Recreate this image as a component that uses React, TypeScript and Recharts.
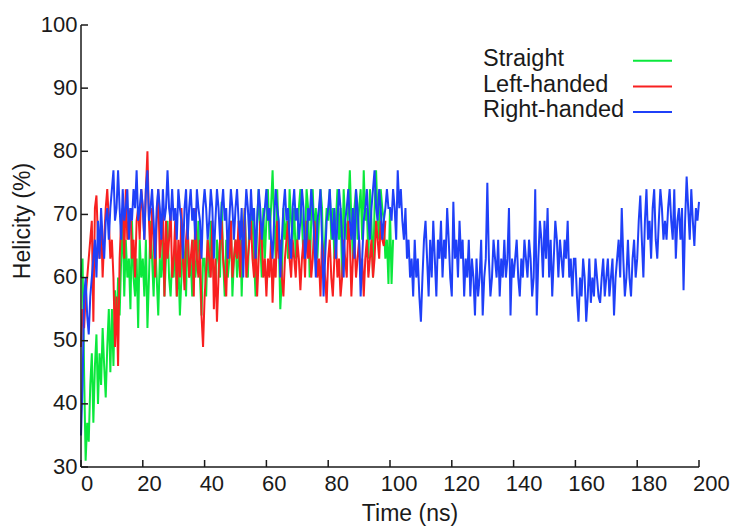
import React from "react";
import { LineChart, Line, XAxis, YAxis, Customized } from "recharts";

// sampling of the trajectories (ns between points)
const STEP_NS = 0.5;

// Straight peptide, helicity (%) every 0.5 ns
const straight = [
  60, 63, 45, 31, 37, 34, 43, 48, 37, 46, 51, 40, 48, 43, 52, 46, 41, 49, 55, 45,
  55, 46, 58, 51, 60, 54, 63, 69, 57, 66, 60, 63, 55, 69, 60, 57, 63, 52, 66, 60,
  63, 57, 66, 52, 60, 69, 63, 57, 66, 60, 54, 63, 60, 66, 57, 63, 69, 60, 57, 63,
  60, 66, 57, 63, 54, 60, 66, 63, 57, 69, 60, 63, 57, 66, 60, 63, 69, 60, 54, 63,
  63, 57, 66, 60, 69, 63, 60, 57, 66, 63, 60, 72, 63, 57, 66, 60, 63, 69, 57, 63,
  66, 60, 63, 69, 57, 66, 71, 63, 60, 69, 66, 71, 63, 57, 69, 74, 66, 60, 71, 63,
  69, 74, 66, 71, 77, 69, 63, 74, 66, 55, 60, 71, 66, 69, 63, 74, 69, 66, 71, 63,
  66, 71, 74, 69, 63, 66, 74, 71, 60, 69, 74, 66, 71, 63, 69, 74, 71, 60, 66, 71,
  69, 74, 66, 71, 63, 69, 74, 66, 71, 60, 74, 69, 66, 71, 77, 69, 63, 71, 74, 66,
  71, 74, 66, 77, 69, 71, 63, 74, 69, 60, 71, 77, 69, 66, 74, 71, 69, 63, 66, 59,
  71, 59, 66,
];

// Left-handed
const leftHanded = [
  49, 55, 52, 57, 60, 63, 66, 69, 53, 71, 73, 66, 63, 69, 60, 66, 71, 74, 69, 63,
  66, 60, 49, 57, 46, 63, 69, 71, 63, 74, 66, 69, 71, 63, 66, 60, 69, 71, 66, 74,
  71, 66, 74, 80, 69, 63, 71, 66, 60, 69, 74, 63, 66, 71, 57, 69, 63, 66, 71, 60,
  63, 69, 57, 66, 60, 71, 63, 58, 66, 69, 60, 63, 66, 57, 71, 63, 60, 66, 54, 49,
  57, 61, 66, 63, 60, 69, 55, 63, 53, 60, 66, 69, 63, 60, 57, 66, 63, 69, 60, 63,
  66, 63, 69, 60, 66, 63, 71, 60, 63, 66, 69, 63, 60, 66, 57, 63, 69, 66, 60, 63,
  57, 63, 60, 66, 56, 63, 60, 69, 63, 66, 60, 57, 63, 66, 69, 63, 60, 66, 63, 60,
  66, 63, 58, 63, 66, 60, 69, 63, 66, 60, 63, 69, 66, 60, 63, 57, 66, 63, 60, 56,
  63, 66, 60, 57, 63, 66, 60, 63, 57, 60, 66, 63, 60, 69, 66, 57, 63, 66, 60, 63,
  66, 60, 63, 57, 63, 66, 60, 63, 66, 60, 63, 69, 66, 63, 69, 66, 65, 69,
];

// Right-handed
const rightHanded = [
  35, 43, 57, 60, 54, 51, 57, 60, 63, 66, 60, 69, 63, 71, 66, 63, 69, 71, 66, 71,
  74, 77, 69, 71, 77, 71, 66, 74, 69, 71, 74, 66, 71, 69, 74, 71, 77, 69, 71, 74,
  71, 66, 74, 77, 69, 71, 74, 69, 63, 71, 74, 71, 66, 74, 69, 71, 77, 71, 69, 74,
  69, 71, 66, 74, 71, 69, 63, 71, 74, 66, 71, 74, 69, 71, 66, 74, 71, 69, 63, 71,
  74, 71, 66, 69, 74, 71, 63, 69, 74, 71, 66, 71, 74, 69, 71, 63, 69, 74, 71, 66,
  71, 74, 69, 66, 71, 60, 69, 74, 71, 66, 74, 69, 71, 63, 69, 74, 71, 66, 69, 71,
  74, 69, 71, 66, 63, 69, 74, 71, 69, 60, 66, 71, 74, 69, 71, 66, 63, 71, 74, 69,
  71, 66, 69, 74, 71, 63, 66, 71, 69, 74, 71, 66, 60, 69, 71, 74, 66, 57, 63, 69,
  71, 74, 69, 66, 71, 63, 69, 74, 71, 66, 60, 69, 71, 74, 69, 66, 71, 63, 74, 71,
  66, 57, 63, 69, 71, 74, 69, 66, 71, 74, 77, 71, 69, 74, 71, 66, 69, 71, 74, 71,
  71, 69, 74, 71, 66, 77, 71, 74, 69, 66, 71, 63, 66, 60, 63, 57, 66, 60, 63, 57,
  53, 60, 66, 69, 63, 57, 66, 60, 69, 63, 57, 66, 63, 69, 60, 66, 63, 71, 66, 60,
  57, 72, 63, 66, 60, 69, 63, 66, 57, 63, 60, 66, 57, 63, 60, 54, 63, 57, 60, 66,
  54, 60, 63, 75, 63, 57, 60, 66, 63, 60, 66, 57, 63, 60, 66, 60, 63, 71, 54, 63,
  60, 63, 66, 60, 57, 63, 60, 66, 63, 60, 66, 63, 57, 60, 74, 54, 63, 69, 66, 60,
  69, 63, 71, 60, 66, 57, 63, 69, 66, 60, 66, 63, 60, 66, 63, 69, 60, 63, 57, 63,
  63, 57, 53, 60, 57, 63, 60, 53, 57, 63, 56, 60, 57, 63, 60, 57, 56, 60, 63, 57,
  60, 63, 57, 60, 63, 54, 60, 63, 66, 60, 71, 63, 57, 60, 66, 60, 57, 63, 66, 60,
  63, 69, 73, 66, 60, 69, 74, 66, 69, 63, 71, 74, 66, 63, 69, 74, 71, 66, 69, 66,
  71, 74, 69, 66, 74, 63, 69, 71, 66, 71, 58, 69, 76, 71, 66, 74, 69, 65, 71, 69, 72,
];

const xTicks = [0, 20, 40, 60, 80, 100, 120, 140, 160, 180, 200];
const yTicks = [30, 40, 50, 60, 70, 80, 90, 100];

const series = [
  { key: "straight", name: "Straight", color: "#0be83c" },
  { key: "left", name: "Left-handed", color: "#f82020" },
  { key: "right", name: "Right-handed", color: "#1f40f8" },
];

const chartData = rightHanded.map((v, i) => ({
  time: i * STEP_NS,
  straight: straight[i],
  left: leftHanded[i],
  right: v,
}));

const FONT = "'Liberation Sans', Arial, Helvetica, sans-serif";
const INK = "#1a1a1a";

const BottomTick = (props: any) => {
  const { x, y, payload } = props;
  return (
    <g>
      <line x1={x} y1={y} x2={x} y2={y - 7} stroke={INK} strokeWidth={1.5} />
      <text x={x + 6 + payload.value * 0.032} y={y + 23.5} textAnchor="middle" fontSize={22} fill={INK} fontFamily={FONT}>
        {payload.value}
      </text>
    </g>
  );
};

const TopTick = (props: any) => {
  const { x, y } = props;
  return <line x1={x} y1={y} x2={x} y2={y + 7} stroke={INK} strokeWidth={1.5} />;
};

const LeftTick = (props: any) => {
  const { x, y, payload } = props;
  return (
    <g>
      <line x1={x} y1={y} x2={x + 7} y2={y} stroke={INK} strokeWidth={1.5} />
      <text x={x - 3.5} y={y + 6.5} textAnchor="end" fontSize={22} fill={INK} fontFamily={FONT}>
        {payload.value}
      </text>
    </g>
  );
};

const RightTick = (props: any) => {
  const { x, y } = props;
  return <line x1={x} y1={y} x2={x - 7} y2={y} stroke={INK} strokeWidth={1.5} />;
};

// titles and the key, drawn inside the svg
const Decorations = () => (
  <g fontFamily={FONT} fill={INK}>
    <text x={410} y={521} textAnchor="middle" fontSize={23}>Time (ns)</text>
    <text x={30} y={221} textAnchor="middle" fontSize={23} transform="rotate(-90 30 221)">Helicity (%)</text>
    {series.map((s, i) => (
      <g key={s.key}>
        <text x={483} y={66 + i * 25.7} fontSize={23.5}>{s.name}</text>
        <line x1={633} x2={672} y1={60.8 + i * 25.6} y2={60.8 + i * 25.6} stroke={s.color} strokeWidth={2} />
      </g>
    ))}
  </g>
);

const axisLine = { stroke: INK, strokeWidth: 1.5 };

export default function App() {
  return (
    <div style={{ width: 735, height: 527, background: "#fff" }}>
      <style>{"body{margin:0}"}</style>
      <LineChart width={735} height={527} data={chartData} margin={{ top: 25, right: 36, bottom: 20, left: 21 }}>
        <XAxis
          xAxisId="bottom"
          dataKey="time"
          type="number"
          domain={[0, 200]}
          ticks={xTicks}
          interval={0}
          height={40}
          tickSize={0}
          tickMargin={0}
          tickLine={false}
          axisLine={axisLine}
          tick={<BottomTick />}
        />
        <XAxis
          xAxisId="top"
          orientation="top"
          dataKey="time"
          type="number"
          domain={[0, 200]}
          ticks={xTicks}
          interval={0}
          height={0}
          tickSize={0}
          tickMargin={0}
          tickLine={false}
          axisLine={axisLine}
          tick={<TopTick />}
        />
        <YAxis
          yAxisId="left"
          type="number"
          domain={[30, 100]}
          ticks={yTicks}
          interval={0}
          width={60}
          tickSize={0}
          tickMargin={0}
          tickLine={false}
          axisLine={axisLine}
          tick={<LeftTick />}
        />
        <YAxis
          yAxisId="right"
          orientation="right"
          type="number"
          domain={[30, 100]}
          ticks={yTicks}
          interval={0}
          width={0}
          tickSize={0}
          tickMargin={0}
          tickLine={false}
          axisLine={axisLine}
          tick={<RightTick />}
        />
        {series.map((s) => (
          <Line
            key={s.key}
            xAxisId="bottom"
            yAxisId="left"
            dataKey={s.key}
            name={s.name}
            stroke={s.color}
            strokeWidth={2}
            dot={false}
            type="linear"
            isAnimationActive={false}
          />
        ))}
        <Customized component={Decorations} />
      </LineChart>
    </div>
  );
}
